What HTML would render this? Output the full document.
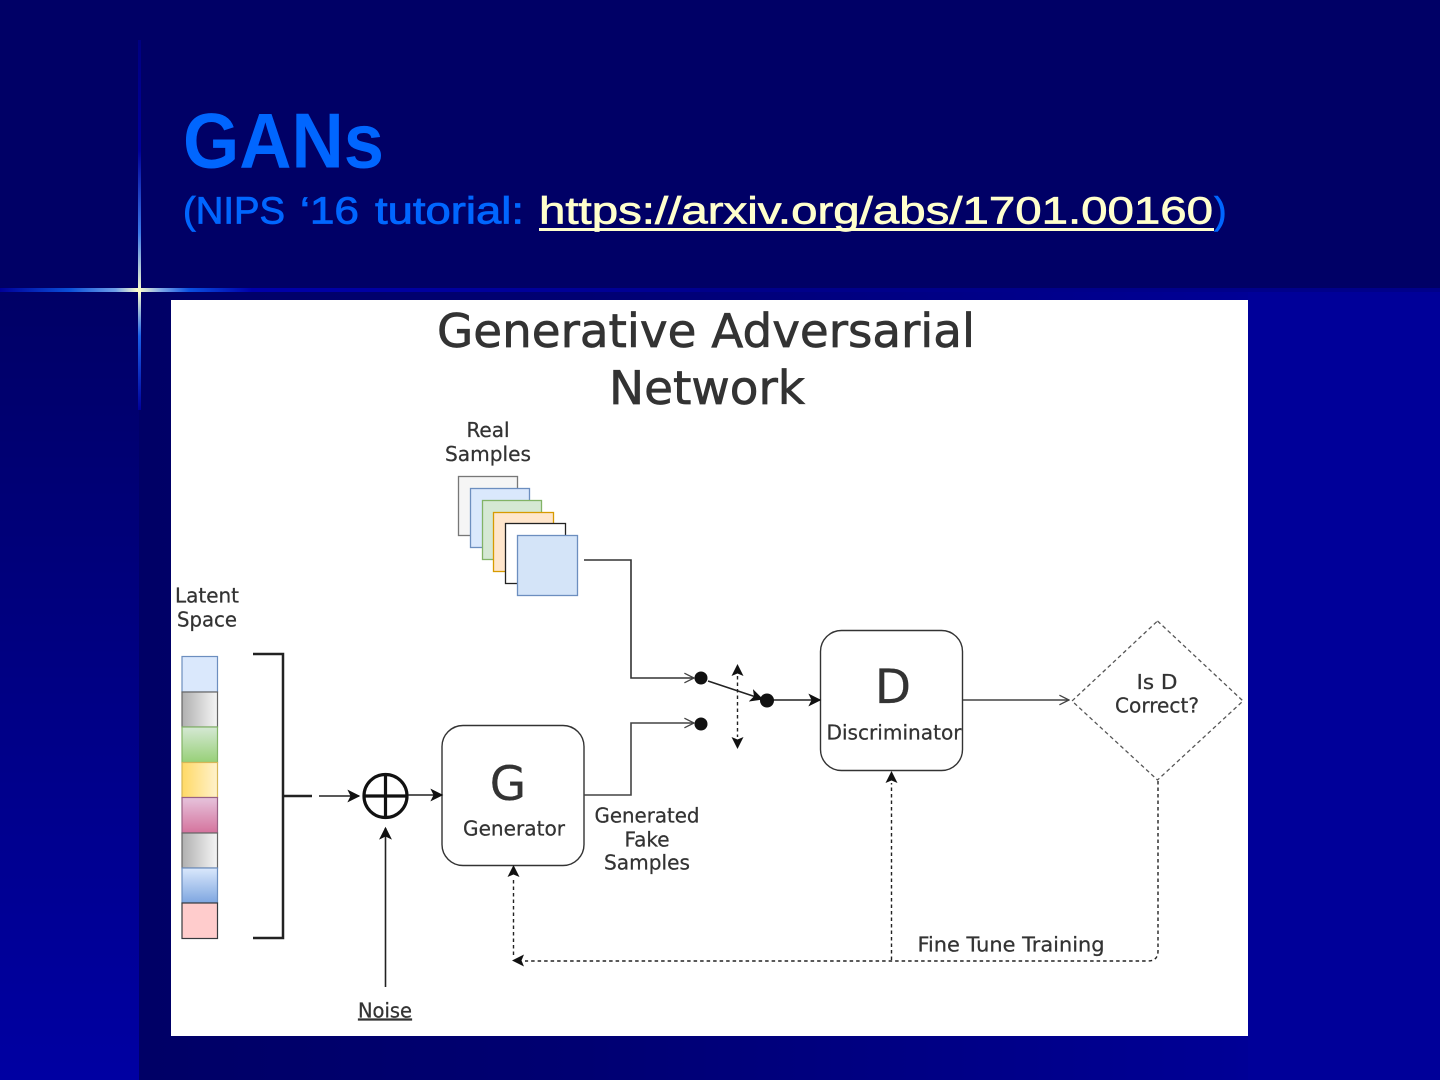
<!DOCTYPE html>
<html><head><meta charset="utf-8"><title>GANs</title>
<style>html,body{margin:0;padding:0;background:#000099}svg{display:block}</style></head>
<body>
<svg xmlns="http://www.w3.org/2000/svg" width="1440" height="1080" viewBox="0 0 1440 1080">
<defs>
<linearGradient id="bgL" x1="0" y1="0" x2="0" y2="1"><stop offset="0" stop-color="#000066"/><stop offset="1" stop-color="#0000a2"/></linearGradient>
<linearGradient id="bgR" x1="0" y1="0" x2="1" y2="0"><stop offset="0" stop-color="#000066"/><stop offset="0.4" stop-color="#000072"/><stop offset="1" stop-color="#000096"/></linearGradient>
<linearGradient id="hl" x1="0" y1="0" x2="1" y2="0"><stop offset="0" stop-color="#000099"/><stop offset="0.1" stop-color="#0a50d8"/><stop offset="0.165" stop-color="#6f9fe8"/><stop offset="0.197" stop-color="#ffffcc"/><stop offset="0.23" stop-color="#7fa8e8"/><stop offset="0.27" stop-color="#0a50e0"/><stop offset="0.36" stop-color="#0000aa"/><stop offset="1" stop-color="#000090"/></linearGradient>
<linearGradient id="vl" x1="0" y1="0" x2="0" y2="1"><stop offset="0" stop-color="#000080"/><stop offset="0.3" stop-color="#000099"/><stop offset="0.52" stop-color="#3a78e8"/><stop offset="0.68" stop-color="#ffffcc"/><stop offset="0.8" stop-color="#1a60e8"/><stop offset="1" stop-color="#000099"/></linearGradient>
<linearGradient id="g1" x1="0" y1="0" x2="1" y2="0"><stop offset="0" stop-color="#b0b0b0"/><stop offset="1" stop-color="#f5f5f5"/></linearGradient>
<linearGradient id="g2" x1="0" y1="0" x2="0" y2="1"><stop offset="0" stop-color="#d5e8d4"/><stop offset="1" stop-color="#97d077"/></linearGradient>
<linearGradient id="g3" x1="0" y1="0" x2="1" y2="0"><stop offset="0" stop-color="#ffd966"/><stop offset="1" stop-color="#fff2cc"/></linearGradient>
<linearGradient id="g4" x1="0" y1="0" x2="0" y2="1"><stop offset="0" stop-color="#e6c3dc"/><stop offset="1" stop-color="#d5739d"/></linearGradient>
<linearGradient id="g5" x1="0" y1="0" x2="0" y2="1"><stop offset="0" stop-color="#dae8fc"/><stop offset="1" stop-color="#7ea6e0"/></linearGradient>
<marker id="af" viewBox="0 0 10 10" refX="9" refY="5" markerWidth="13" markerHeight="13" markerUnits="userSpaceOnUse" orient="auto"><path d="M0 0L10 5L0 10L2.5 5Z" fill="#111"/></marker>
<marker id="ao" viewBox="0 0 10 10" refX="9" refY="5" markerWidth="12" markerHeight="12" markerUnits="userSpaceOnUse" orient="auto"><path d="M1 1L9 5L1 9" fill="none" stroke="#444" stroke-width="1.1"/></marker>
</defs>

<!-- background -->
<rect width="1440" height="1080" fill="#000099"/>
<rect x="0" y="292" width="139" height="788" fill="url(#bgL)"/>
<rect x="139" y="292" width="1109" height="788" fill="url(#bgR)"/>
<rect width="1440" height="288" fill="#000066"/>
<rect y="288" width="1440" height="4" fill="#00008a"/>
<rect y="288" width="700" height="4" fill="url(#hl)"/>
<rect x="138" y="40" width="3" height="370" fill="url(#vl)"/>

<!-- heading -->
<text x="183" y="167.500" font-family="'Liberation Sans',sans-serif" font-weight="700" font-size="78" fill="#0066ff" textLength="201" lengthAdjust="spacingAndGlyphs">GANs</text>
<g font-family="'Liberation Sans',sans-serif" font-size="38" fill="#0066ff" stroke="#0066ff" stroke-width="0.8">
<text x="183" y="223.500" textLength="102" lengthAdjust="spacingAndGlyphs">(NIPS</text>
<text x="300" y="223.500" textLength="59" lengthAdjust="spacingAndGlyphs">‘16</text>
<text x="375" y="223.500" textLength="149" lengthAdjust="spacingAndGlyphs">tutorial:</text>
</g>
<text x="539" y="223.500" font-family="'Liberation Sans',sans-serif" font-size="38" fill="#ffffcc" stroke="#ffffcc" stroke-width="0.7" textLength="674" lengthAdjust="spacingAndGlyphs">https://arxiv.org/abs/1701.00160</text>
<rect x="539" y="228" width="675" height="3" fill="#ffffcc"/>
<text x="1214" y="223.500" font-family="'Liberation Sans',sans-serif" font-size="38" fill="#0066ff" stroke="#0066ff" stroke-width="0.6">)</text>

<!-- diagram -->
<rect x="171" y="300" width="1077" height="736" fill="#fff"/>

<g font-family="'DejaVu Sans',sans-serif" fill="#333" stroke="#333" stroke-width="0.25" text-anchor="middle">
<text x="706" y="347" font-size="46" stroke-width="0.7" textLength="538" lengthAdjust="spacingAndGlyphs">Generative Adversarial</text>
<text x="707" y="404" font-size="46" stroke-width="0.7" textLength="196" lengthAdjust="spacingAndGlyphs">Network</text>
<text x="488" y="437" font-size="20">Real</text>
<text x="488" y="461" font-size="20" textLength="86" lengthAdjust="spacingAndGlyphs">Samples</text>
<text x="207" y="602.500" font-size="20" textLength="64" lengthAdjust="spacingAndGlyphs">Latent</text>
<text x="207" y="626.500" font-size="20" textLength="60" lengthAdjust="spacingAndGlyphs">Space</text>
<text x="508" y="800" font-size="47">G</text>
<text x="514" y="835.500" font-size="20" textLength="102" lengthAdjust="spacingAndGlyphs">Generator</text>
<text x="647" y="822.500" font-size="20" textLength="105" lengthAdjust="spacingAndGlyphs">Generated</text>
<text x="647" y="846.500" font-size="20">Fake</text>
<text x="647" y="869.500" font-size="20" textLength="86" lengthAdjust="spacingAndGlyphs">Samples</text>
<text x="893" y="703" font-size="47">D</text>
<text x="894" y="739.500" font-size="20" textLength="135" lengthAdjust="spacingAndGlyphs">Discriminator</text>
<text x="1157" y="689" font-size="20" textLength="41" lengthAdjust="spacingAndGlyphs">Is D</text>
<text x="1157" y="712.500" font-size="20" textLength="84" lengthAdjust="spacingAndGlyphs">Correct?</text>
<text x="1011" y="951.500" font-size="20" textLength="187" lengthAdjust="spacingAndGlyphs">Fine Tune Training</text>
<text x="385" y="1017.500" font-size="20" text-decoration="underline" textLength="54" lengthAdjust="spacingAndGlyphs">Noise</text>
</g>

<!-- real sample stack -->
<g stroke-width="1.3">
<rect x="458.500" y="476.500" width="59" height="59" fill="#f5f5f5" stroke="#777"/>
<rect x="470.500" y="488.500" width="59" height="59" fill="#dae8fc" stroke="#6c8ebf"/>
<rect x="482.500" y="500.500" width="59" height="59" fill="#d5e8d4" stroke="#82b366"/>
<rect x="493.500" y="512.500" width="60" height="59" fill="#ffe6cc" stroke="#d79b00"/>
<rect x="505.500" y="523.500" width="60" height="60" fill="#fff" stroke="#222"/>
<rect x="517.500" y="535.500" width="60" height="60" fill="#d4e4f8" stroke="#6c8ebf"/>
</g>

<!-- latent vector -->
<g stroke-width="1.2">
<rect x="182" y="656.500" width="35.500" height="35.500" fill="#dae8fc" stroke="#6c8ebf"/>
<rect x="182" y="692" width="35.500" height="35" fill="url(#g1)" stroke="#666"/>
<rect x="182" y="727" width="35.500" height="35.500" fill="url(#g2)" stroke="#82b366"/>
<rect x="182" y="762.500" width="35.500" height="35" fill="url(#g3)" stroke="#d6b656"/>
<rect x="182" y="797.500" width="35.500" height="35.500" fill="url(#g4)" stroke="#996185"/>
<rect x="182" y="833" width="35.500" height="35" fill="url(#g1)" stroke="#666"/>
<rect x="182" y="868" width="35.500" height="35" fill="url(#g5)" stroke="#6c8ebf"/>
<rect x="182" y="903" width="35.500" height="35.500" fill="#ffcccc" stroke="#36393d"/>
</g>

<!-- bracket -->
<path d="M253 654H283V938H253" fill="none" stroke="#222" stroke-width="2.500"/>
<path d="M283 796H312" fill="none" stroke="#222" stroke-width="2.500"/>

<!-- summing node -->
<circle cx="385.500" cy="796" r="21.500" fill="#fff" stroke="#111" stroke-width="3.200"/>
<path d="M385.500 774.500V817.500M364 796H407" stroke="#111" stroke-width="3.200" fill="none"/>

<!-- boxes -->
<rect x="442" y="725.500" width="142" height="140" rx="21" fill="none" stroke="#333" stroke-width="1.400"/>
<rect x="820.500" y="630.500" width="142" height="140" rx="21" fill="none" stroke="#333" stroke-width="1.400"/>
<path d="M1157.500 621L1243 701L1157.500 780L1072 701Z" fill="none" stroke="#555" stroke-width="1.300" stroke-dasharray="4 3" stroke-linejoin="round"/>

<!-- solid connectors -->
<g fill="none" stroke="#222" stroke-width="1.600">
<path d="M319 796H359" marker-end="url(#af)"/>
<path d="M408 795H442" marker-end="url(#af)"/>
<path d="M385.500 987V828" marker-end="url(#af)"/>
<path d="M584 560H631V678H694" stroke="#333" marker-end="url(#ao)"/>
<path d="M584 795H631V723H694" stroke="#444" marker-end="url(#ao)"/>
<path d="M708 681L762 699" marker-end="url(#af)"/>
<path d="M772 700H820" marker-end="url(#af)"/>
<path d="M963 700H1069" stroke="#444" marker-end="url(#ao)"/>
</g>

<!-- switch nodes -->
<circle cx="701" cy="678" r="6.500" fill="#111"/>
<circle cx="701" cy="724" r="6.500" fill="#111"/>
<circle cx="767" cy="700.500" r="7" fill="#111"/>

<!-- dashed connectors -->
<g fill="none" stroke="#222" stroke-width="1.400" stroke-dasharray="3.500 3">
<path d="M737.500 676V737"/>
<path d="M513.500 955V877"/>
<path d="M891.500 960V783"/>
<path d="M1158 781V951Q1158 961 1148 961H525"/>
</g>
<g fill="#111">
<path d="M737.500 664L743.500 676L737.500 673.500L731.500 676Z"/>
<path d="M737.500 749L743.500 737L737.500 739.500L731.500 737Z"/>
<path d="M513.500 865L519.500 877L513.500 874.500L507.500 877Z"/>
<path d="M891.500 771L897.500 783L891.500 780.500L885.500 783Z"/>
<path d="M512 960.500L524 954.500L521.500 960.500L524 966.500Z"/>
</g>
</svg>
</body></html>
